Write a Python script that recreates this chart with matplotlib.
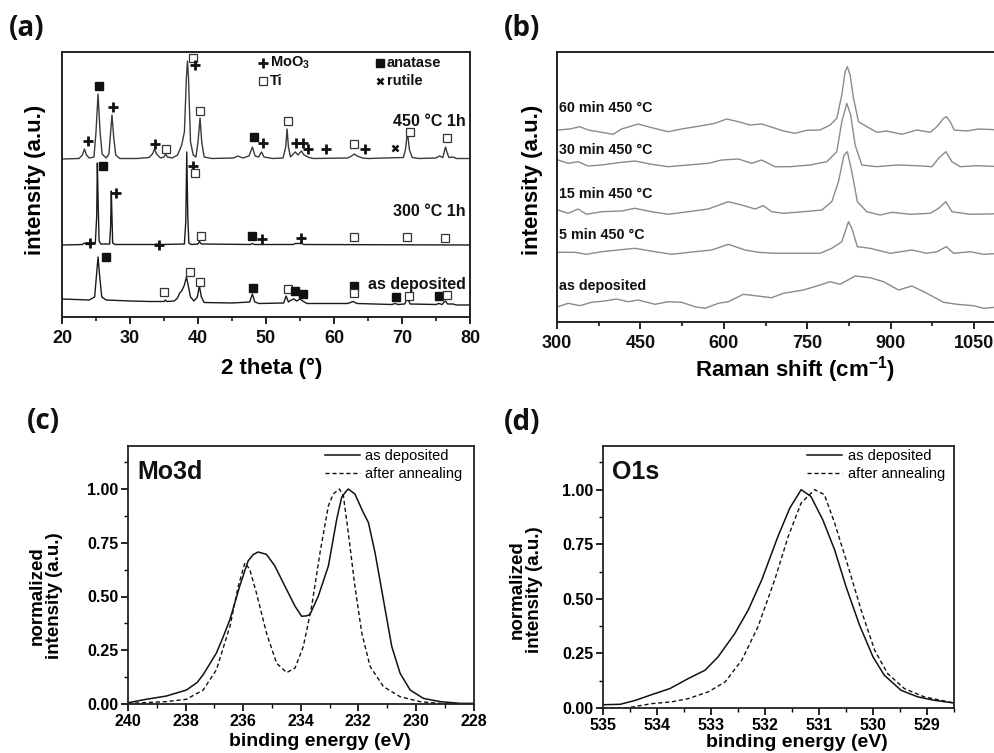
import numpy as np
import matplotlib

matplotlib.use("Agg")
import matplotlib.pyplot as plt  # noqa: E402
from matplotlib import font_manager  # noqa: E402
from matplotlib.ticker import MultipleLocator, FixedLocator, FormatStrFormatter  # noqa: E402

# ── data ─────────────────────────────────────────────────────────────────

# (a) XRD, intensity in arbitrary units (stacked offsets included)
xrd_450 = [
    (20.0, 158), (22.5, 158.5), (23.0, 162), (23.3, 168), (23.6, 162), (24.0, 159),
    (24.7, 160), (25.0, 185), (25.3, 223), (25.6, 185), (25.9, 163), (26.5, 159),
    (26.9, 163), (27.1, 180), (27.35, 202), (27.6, 180), (27.9, 162), (28.5, 158.5),
    (31.0, 158.5), (32.8, 159.5), (33.3, 163), (33.6, 168), (33.9, 163), (34.5, 159),
    (35.0, 160), (35.25, 163), (35.5, 160), (36.2, 159), (37.0, 162), (37.6, 172),
    (38.0, 185), (38.3, 240), (38.45, 256), (38.6, 240), (38.9, 175), (39.3, 162),
    (39.7, 160), (40.0, 175), (40.3, 199), (40.55, 175), (40.9, 160), (42.0, 158.5),
    (45.2, 159), (45.9, 161), (46.6, 159), (47.5, 161), (48.0, 170), (48.4, 161),
    (48.9, 160), (49.35, 165), (49.7, 160), (51.0, 158.5), (52.5, 159), (52.9, 170),
    (53.1, 188), (53.3, 170), (53.6, 160), (54.0, 163), (54.3, 165), (54.7, 162),
    (55.2, 166), (55.6, 162), (56.3, 159.5), (57.0, 158.5), (62.0, 159), (62.6, 161),
    (63.0, 163), (63.4, 161), (64.2, 159), (65.0, 158.5), (70.2, 159.5), (70.5, 167),
    (70.8, 185), (71.1, 167), (71.5, 159.5), (72.5, 158.5), (75.0, 159), (75.5, 161),
    (76.0, 159.5), (76.2, 165), (76.4, 170), (76.6, 165), (76.9, 159.5), (77.5, 160),
    (78.0, 158.5), (80.0, 158.5),
]
xrd_300 = [
    (20.0, 72), (23.0, 72.5), (23.3, 74), (23.6, 72.5), (24.0, 72.5), (24.9, 74),
    (25.1, 100), (25.2, 154), (25.3, 120), (25.45, 76), (25.7, 73), (27.0, 73),
    (27.15, 90), (27.25, 126), (27.35, 100), (27.45, 74), (27.8, 72.5), (33.5, 72.5),
    (34.0, 73), (34.5, 72.5), (38.0, 73), (38.2, 95), (38.35, 165), (38.5, 100),
    (38.65, 74), (39.0, 72.5), (40.0, 73), (40.2, 75.5), (40.5, 73), (47.7, 72.5),
    (48.0, 73.5), (48.3, 72.5), (54.0, 72.5), (54.3, 73.5), (55.2, 73.5), (55.6, 72.5),
    (80.0, 72),
]
xrd_dep = [
    (20.0, 18), (22.0, 17.5), (24.0, 17), (24.8, 20), (25.05, 40), (25.3, 60),
    (25.55, 40), (25.85, 20), (26.5, 17), (30.0, 16), (33.0, 15.5), (35.0, 15.5),
    (35.2, 17), (35.4, 15.5), (36.5, 16), (37.0, 19), (37.3, 24), (37.6, 26),
    (38.0, 32), (38.3, 40), (38.55, 32), (38.9, 20), (39.4, 16), (39.9, 20),
    (40.2, 31), (40.5, 20), (40.9, 14.5), (45.0, 14), (47.6, 15), (48.0, 23),
    (48.35, 15), (49.0, 13.5), (52.6, 14), (52.95, 21), (53.3, 15), (53.7, 17),
    (54.1, 18), (54.5, 16), (55.0, 18), (55.4, 16), (56.0, 13.5), (62.0, 13.5),
    (62.8, 15.5), (63.4, 13.5), (68.5, 12.5), (69.0, 13.5), (69.4, 12.5), (70.4, 13),
    (70.8, 19), (71.2, 13), (75.0, 12.5), (75.4, 13.5), (75.9, 12.5), (76.2, 15),
    (76.4, 16), (76.7, 13), (77.5, 13), (78.0, 12), (80.0, 12),
]
xrd_curve_names = ["450 °C 1h", "300 °C 1h", "as deposited"]
xrd_curve_label_y = [195, 105, 33]

# phase markers: (2 theta, height, phase)
xrd_markers = [
    (23.8, 176, "moo3"), (25.4, 231, "anatase"), (27.5, 210, "moo3"), (33.7, 173, "moo3"),
    (35.3, 168, "ti"), (39.3, 259, "ti"), (39.5, 252, "moo3"), (40.3, 206, "ti"),
    (48.3, 180, "anatase"), (49.5, 174, "moo3"), (53.2, 196, "ti"), (54.4, 174, "moo3"),
    (55.4, 174, "moo3"), (56.2, 168, "moo3"), (58.8, 168, "moo3"), (63.0, 173, "ti"),
    (64.5, 168, "moo3"), (69.0, 169, "rutile"), (71.2, 185, "ti"), (76.6, 179, "ti"),
    (24.1, 74, "moo3"), (26.0, 151, "anatase"), (28.0, 124, "moo3"), (34.2, 72, "moo3"),
    (39.3, 151, "moo3"), (39.6, 144, "ti"), (40.4, 81, "ti"), (48.0, 81, "anatase"),
    (49.4, 78, "moo3"), (55.2, 79, "moo3"), (63.0, 80, "ti"), (70.7, 80, "ti"),
    (76.3, 79, "ti"),
    (26.4, 60, "anatase"), (35.0, 25, "ti"), (38.8, 45, "ti"), (40.3, 35, "ti"),
    (48.1, 29, "anatase"), (53.2, 28, "ti"), (54.2, 26, "anatase"), (55.4, 23, "anatase"),
    (63.0, 31, "anatase"), (63.0, 24, "ti"), (69.1, 20, "anatase"), (71.0, 21, "ti"),
    (75.4, 21, "anatase"), (76.6, 22, "ti"),
]
phase_keys = ["moo3", "ti", "anatase", "rutile"]
phase_names = ["MoO$_\\mathbf{3}$", "Ti", "anatase", "rutile"]
phase_key_pos = [(49.6, 254), (49.6, 236), (66.8, 254), (66.8, 236)]

# (b) Raman, shift in cm-1, stacked intensities
raman_60 = [
    (302, 192), (323, 193), (341, 195.3), (356, 192), (380, 189.7), (401, 187.7),
    (416, 193), (446, 198), (470, 194.3), (500, 190.3), (524, 193), (560, 196.3),
    (584, 198.7), (605, 203), (626, 200.3), (647, 197), (668, 198), (689, 194.3),
    (707, 191), (728, 188.7), (749, 191.7), (773, 192), (791, 197), (803, 203.7),
    (812, 227), (818, 250.3), (822, 255.3), (827, 247), (833, 223.7), (842, 200.3),
    (857, 195.3), (875, 189.7), (893, 191), (920, 187.7), (947, 192), (971, 189.7),
    (983, 195.3), (995, 203.7), (1000, 205.3), (1007, 200.3), (1014, 192), (1037, 191),
    (1058, 193), (1100, 192),
]
raman_30 = [
    (302, 162), (320, 158.7), (338, 160.3), (356, 156), (380, 157), (416, 159.7),
    (440, 161), (470, 157.7), (500, 155.3), (536, 157), (572, 158.7), (596, 162),
    (626, 163), (650, 158.7), (668, 162), (692, 155.3), (719, 155.3), (755, 157),
    (785, 160.3), (803, 170.3), (812, 200.3), (821, 218.7), (828, 207), (836, 177),
    (848, 157), (875, 155.3), (911, 157), (947, 156.3), (974, 155.3), (986, 163.7),
    (999, 170.3), (1010, 160.3), (1025, 155.3), (1055, 156.3), (1100, 155.3),
]
raman_15 = [
    (302, 112), (320, 108.7), (338, 113), (353, 107.7), (380, 110.3), (416, 111),
    (440, 113.7), (470, 110.3), (500, 107.7), (536, 110.3), (572, 113), (608, 120.3),
    (632, 117), (656, 113), (671, 116.3), (686, 110.3), (707, 108.7), (743, 110.3),
    (776, 112), (794, 120.3), (806, 140.3), (816, 167), (822, 170.3), (830, 150.3),
    (840, 120.3), (857, 110.3), (881, 107), (902, 109.7), (935, 107.7), (971, 108.7),
    (986, 113.7), (999, 120.3), (1010, 110.3), (1043, 107.7), (1100, 108.3),
]
raman_5 = [
    (302, 69.7), (332, 69.7), (353, 67.7), (380, 70.3), (440, 73.7), (476, 70.3),
    (506, 67.7), (548, 70.3), (578, 72), (608, 77.7), (638, 72), (662, 69.7),
    (692, 68.7), (719, 68.7), (773, 68.7), (794, 73.7), (812, 80.3), (824, 100.3),
    (830, 93.7), (840, 75.3), (863, 73.7), (899, 68.7), (938, 72), (965, 68.7),
    (983, 70.3), (1000, 75.3), (1013, 68.7), (1043, 70.3), (1067, 67.7), (1100, 68.7),
]
raman_dep = [
    (302, 15.3), (320, 18.7), (341, 16.3), (362, 19.7), (386, 21), (407, 23),
    (428, 20.3), (446, 22), (476, 17.7), (500, 20.3), (524, 19.7), (548, 15.3),
    (566, 13.7), (590, 18.7), (608, 20.3), (635, 27.7), (656, 26.3), (686, 24.3),
    (707, 28.7), (743, 32), (773, 37), (791, 40.3), (809, 37.7), (836, 46),
    (863, 44.3), (887, 40.3), (914, 32), (938, 36), (965, 28.7), (995, 19.7),
    (1019, 17.7), (1049, 16.3), (1067, 13.7), (1100, 15.3),
]
raman_names = ["60 min 450 °C", "30 min 450 °C", "15 min 450 °C", "5 min 450 °C", "as deposited"]
raman_label_y = [214, 172, 128, 87, 36]

# (c) Mo3d XPS, binding energy (eV) vs normalized intensity
mo3d_dep = [
    (240.0, 0.006), (239.36, 0.022), (238.67, 0.037), (237.97, 0.065), (237.6, 0.100),
    (237.39, 0.136), (236.93, 0.237), (236.7, 0.310), (236.46, 0.393), (236.12, 0.548),
    (235.83, 0.665), (235.65, 0.695), (235.48, 0.707), (235.19, 0.696), (234.90, 0.642),
    (234.55, 0.548), (234.20, 0.455), (233.97, 0.408), (233.80, 0.410), (233.68, 0.416),
    (233.39, 0.502), (233.04, 0.642), (232.75, 0.860), (232.58, 0.961), (232.45, 0.985),
    (232.35, 1.000), (232.12, 0.977), (231.83, 0.891), (231.65, 0.844), (231.42, 0.704),
    (231.13, 0.486), (230.84, 0.268), (230.55, 0.143), (230.20, 0.065), (229.74, 0.026),
    (229.16, 0.011), (228.46, 0.003), (228.0, 0.003),
]
mo3d_ann = [
    (240.0, 0.003), (238.67, 0.011), (237.97, 0.022), (237.39, 0.065), (236.93, 0.159),
    (236.46, 0.361), (236.17, 0.548), (235.94, 0.657), (235.77, 0.626), (235.54, 0.517),
    (235.19, 0.330), (234.84, 0.190), (234.49, 0.146), (234.20, 0.167), (233.91, 0.268),
    (233.62, 0.455), (233.33, 0.704), (233.04, 0.922), (232.87, 0.977), (232.66, 1.000),
    (232.52, 0.969), (232.35, 0.798), (232.12, 0.548), (231.88, 0.330), (231.59, 0.174),
    (231.13, 0.081), (230.55, 0.034), (229.86, 0.011), (228.93, 0.0), (228.0, 0.0),
]

# (d) O1s XPS
o1s_dep = [
    (535.0, 0.015), (534.68, 0.017), (534.40, 0.035), (534.10, 0.061), (533.76, 0.089),
    (533.42, 0.135), (533.11, 0.173), (532.87, 0.234), (532.56, 0.341), (532.31, 0.449),
    (532.06, 0.587), (531.76, 0.786), (531.54, 0.916), (531.33, 1.000), (531.15, 0.969),
    (530.93, 0.862), (530.71, 0.724), (530.50, 0.556), (530.25, 0.380), (530.00, 0.234),
    (529.79, 0.150), (529.48, 0.081), (529.17, 0.051), (528.86, 0.035), (528.5, 0.023),
]
o1s_ann = [
    (535.0, 0.0), (534.53, 0.0015), (534.10, 0.020), (533.73, 0.028), (533.42, 0.043),
    (533.05, 0.074), (532.74, 0.119), (532.43, 0.219), (532.13, 0.372), (531.82, 0.587),
    (531.57, 0.786), (531.33, 0.939), (531.08, 1.000), (530.90, 0.977), (530.71, 0.847),
    (530.46, 0.648), (530.22, 0.449), (529.97, 0.265), (529.73, 0.158), (529.42, 0.089),
    (529.05, 0.051), (528.5, 0.023),
]
xps_names = ["as deposited", "after annealing"]

# ── fonts ───────────────────────────────────────────────────────────────
installed = {f.name for f in font_manager.fontManager.ttflist}
ARIAL = "Liberation Sans"
PANEL = "Open Sans" if "Open Sans" in installed else ARIAL

plt.rcParams["font.family"] = [ARIAL, "DejaVu Sans"]
plt.rcParams["mathtext.fontset"] = "custom"
plt.rcParams["mathtext.rm"] = ARIAL
plt.rcParams["mathtext.bf"] = ARIAL + ":bold"

fig = plt.figure(figsize=(9.95, 7.53), dpi=100, facecolor="white")
W, H = 995.0, 753.0


def axes_px(left, top, right, bottom):
    return fig.add_axes([left / W, 1 - bottom / H, (right - left) / W, (bottom - top) / H])


def xy(points):
    arr = np.array(points, dtype=float)
    return arr[:, 0], arr[:, 1]


GREY = "#8a8a8a"

# ── (a) XRD ────────────────────────────────────────────────────────────
ax_a = axes_px(62, 52, 470, 317)
for curve, color in zip([xrd_450, xrd_300, xrd_dep], ["#3a3a3a", "#1a1a1a", "#1a1a1a"]):
    x, y = xy(curve)
    ax_a.plot(x, y, color=color, lw=1.0, zorder=2)

marker_style = {
    "moo3": dict(marker="+", ms=7, mew=2.0, color="#111111", ls="none"),
    "anatase": dict(marker="s", ms=5.5, color="#111111", ls="none"),
    "ti": dict(marker="s", ms=5.5, mfc="white", mec="#333333", mew=0.9, ls="none"),
    "rutile": dict(marker="x", ms=5, mew=1.8, color="#111111", ls="none"),
}
for t, h, kind in xrd_markers:
    ax_a.plot(t, h, zorder=3, **marker_style[kind])
for key, name, (kx, ky) in zip(phase_keys, phase_names, phase_key_pos):
    ax_a.plot(kx, ky, zorder=3, **marker_style[key])
    ax_a.text(kx + 1.0, ky, name, ha="left", va="center", fontsize=10.5,
              fontweight="bold", color="#111111")
for name, ly in zip(xrd_curve_names, xrd_curve_label_y):
    ax_a.text(0.99, ly, name, transform=ax_a.get_yaxis_transform(), ha="right",
              va="center", fontsize=11.5, fontweight="bold", color="#111111")

ax_a.set_xlim(20, 80)
ax_a.set_ylim(0, 265)
ax_a.set_yticks([])
ax_a.xaxis.set_major_locator(MultipleLocator(10))
ax_a.xaxis.set_minor_locator(MultipleLocator(5))
ax_a.set_xlabel("2 theta (°)", fontsize=16, fontweight="bold")
ax_a.xaxis.set_label_coords(0.515, -0.155)
ax_a.set_ylabel("intensity (a.u.)", fontsize=16, fontweight="bold")
ax_a.yaxis.set_label_coords(-0.066, 0.517)
ax_a.yaxis.label.set_va("center")

# ── (b) Raman ──────────────────────────────────────────────────────────
ax_b = axes_px(557, 52, 1002, 322)
for curve in [raman_60, raman_30, raman_15, raman_5, raman_dep]:
    x, y = xy(curve)
    ax_b.plot(x, y, color=GREY, lw=1.0)
for name, ly in zip(raman_names, raman_label_y):
    ax_b.text(0.005, ly, name, transform=ax_b.get_yaxis_transform(), ha="left",
              va="center", fontsize=10.3, fontweight="bold", color="#111111")
ax_b.set_xlim(300, 1100)
ax_b.set_ylim(0, 270)
ax_b.set_yticks([])
ax_b.xaxis.set_major_locator(FixedLocator([300, 450, 600, 750, 900, 1050]))
ax_b.xaxis.set_minor_locator(MultipleLocator(75))
ax_b.set_xlabel("Raman shift (cm$^{\\mathbf{-1}}$)", fontsize=16, fontweight="bold")
ax_b.xaxis.set_label_coords(0.535, -0.12)
ax_b.set_ylabel("intensity (a.u.)", fontsize=16, fontweight="bold")
ax_b.yaxis.set_label_coords(-0.056, 0.526)
ax_b.yaxis.label.set_va("center")

for ax in (ax_a, ax_b):
    for spine in ax.spines.values():
        spine.set_linewidth(1.4)
        spine.set_color("#222222")
    ax.tick_params(axis="x", which="major", direction="out", length=5, width=1.3,
                   labelsize=13, pad=4, colors="#111111")
    ax.tick_params(axis="x", which="minor", direction="out", length=3, width=1.1)
    for label in ax.get_xticklabels():
        label.set_fontweight("bold")

# ── (c) and (d) XPS ─────────────────────────────────────────────────────
ax_c = axes_px(128, 446, 473.5, 704)
ax_d = axes_px(603, 446, 954, 708)
xps_sets = [
    (ax_c, mo3d_dep, mo3d_ann, "Mo3d", (240, 228), 2, 1, (0.556, -0.112), (-0.237, 0.42), 0.975),
    (ax_d, o1s_dep, o1s_ann, "O1s", (535, 528.5), 1, 0.5, (0.553, -0.099), (-0.219, 0.45), 0.982),
]
for ax, dep, ann, title, xlim, major, minor, xl, yl, leg_x in xps_sets:
    x, y = xy(dep)
    ax.plot(x, y, color="#111111", lw=1.1, label=xps_names[0])
    x, y = xy(ann)
    ax.plot(x, y, color="#111111", lw=1.0, ls=(0, (3, 2)), label=xps_names[1])
    ax.set_xlim(*xlim)
    ax.set_ylim(0, 1.2)
    ax.xaxis.set_major_locator(MultipleLocator(major))
    ax.xaxis.set_minor_locator(MultipleLocator(minor))
    ax.yaxis.set_major_locator(FixedLocator([0, 0.25, 0.5, 0.75, 1.0]))
    ax.yaxis.set_minor_locator(MultipleLocator(0.125))
    ax.yaxis.set_major_formatter(FormatStrFormatter("%.2f"))
    ax.tick_params(which="major", direction="out", length=5, width=1.2, labelsize=11.5, pad=2)
    ax.tick_params(which="minor", direction="out", length=3, width=1.0)
    for label in ax.get_xticklabels() + ax.get_yticklabels():
        label.set_fontweight("bold")
    for spine in ax.spines.values():
        spine.set_linewidth(1.3)
        spine.set_color("#222222")
    ax.text(0.027, 0.9, title, transform=ax.transAxes, ha="left", va="center",
            fontsize=18, fontweight="bold", color="#111111")
    ax.legend(loc="upper right", bbox_to_anchor=(leg_x, 1.0), frameon=False,
              prop={"size": 10.5}, handlelength=2.4, handletextpad=0.35,
              labelspacing=0.3, borderaxespad=0.2, borderpad=0.0)
    ax.set_xlabel("binding energy (eV)", fontsize=14, fontweight="bold")
    ax.xaxis.set_label_coords(*xl)
    ax.set_ylabel("normalized\nintensity (a.u.)", fontsize=13.5, fontweight="bold",
                  linespacing=1.05)
    ax.yaxis.set_label_coords(*yl)
    ax.yaxis.label.set_va("center")

# ── panel letters ──────────────────────────────────────────────────────
for letter, px, py in [("(a)", 27, 28), ("(b)", 522, 28), ("(c)", 43, 422), ("(d)", 522, 423)]:
    fig.text(px / W, 1 - py / H, letter, ha="center", va="center", fontsize=20,
             fontweight="bold", family=PANEL, color="#111111")

fig.savefig("out.png", dpi=100, facecolor="white")
